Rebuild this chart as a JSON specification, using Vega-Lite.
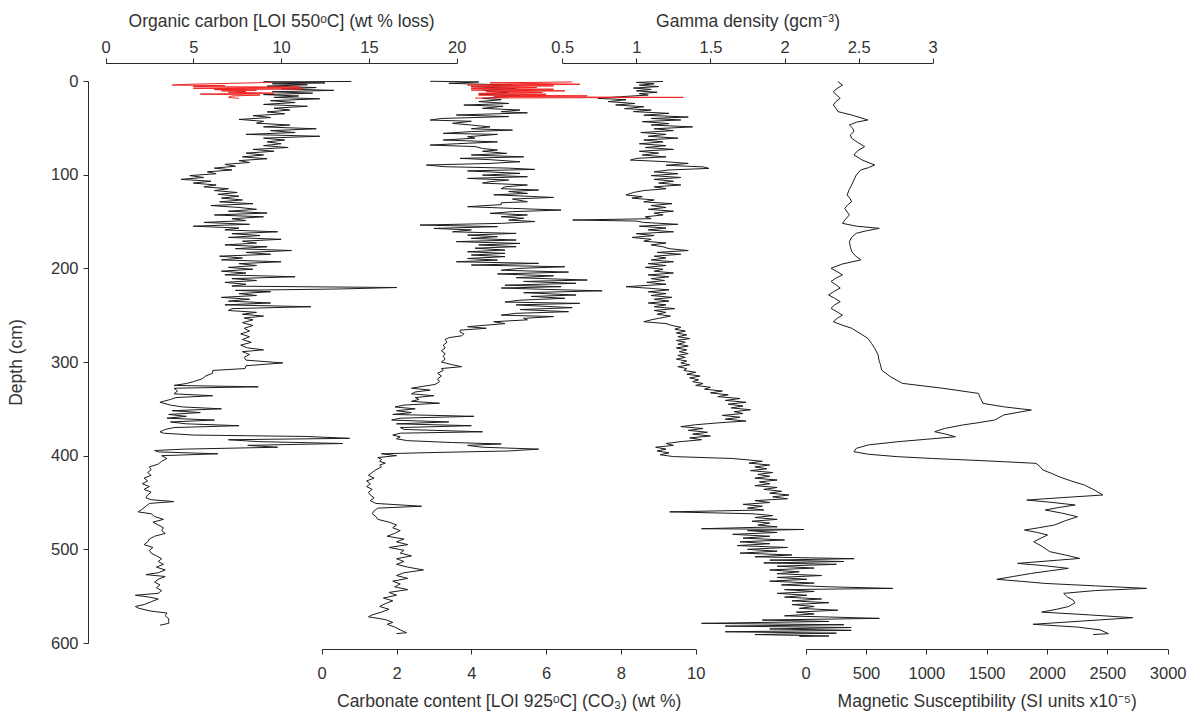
{
"$schema": "https://vega.github.io/schema/vega-lite/v6.json",
"width": 1107, "height": 562,
"autosize": {"type": "none"},
"padding": {"left": 88, "top": 81, "right": 0, "bottom": 70},
"background": "white",
"config": {
 "view": {"stroke": null},
 "axis": {"grid": false, "domainColor": "#2b2b2b", "tickColor": "#2b2b2b", "labelColor": "#333333", "titleColor": "#333333",
  "labelFont": "Liberation Sans", "titleFont": "Liberation Sans", "labelFontSize": 16.5, "titleFontSize": 17.5, "titleFontWeight": "normal",
  "tickSize": 5, "domainWidth": 1, "tickWidth": 1, "labelFlush": false, "labelOverlap": false}
},
"datasets": {
"oc": [
{"d":0.5,"v":14.0},{"d":1,"v":9.0},{"d":2,"v":12.5},{"d":3,"v":9.5},{"d":4,"v":11.5},{"d":5.5,"v":9.2},{"d":7,"v":12.0},{"d":8.5,"v":10.0},{"d":10,"v":13.0},{"d":11.5,"v":9.5},{"d":13,"v":11.8},{"d":14.5,"v":9.0},{"d":16,"v":11.0},{"d":17.5,"v":9.6},{"d":19,"v":12.2},{"d":21,"v":9.4},{"d":23,"v":10.8},{"d":25,"v":9.0},{"d":27,"v":11.5},{"d":29,"v":9.6},{"d":31,"v":10.5},{"d":33,"v":9.2},{"d":35,"v":10.2},{"d":37,"v":8.4},{"d":39,"v":9.4},{"d":41,"v":7.6},{"d":43,"v":9.0},{"d":45,"v":8.6},{"d":47,"v":10.5},{"d":49,"v":9.0},{"d":51,"v":12.0},{"d":53,"v":9.4},{"d":55,"v":10.8},{"d":57,"v":8.0},{"d":59,"v":12.2},{"d":61,"v":9.0},{"d":63,"v":10.2},{"d":65,"v":9.2},{"d":67,"v":10.0},{"d":69,"v":9.0},{"d":71,"v":10.4},{"d":73,"v":8.4},{"d":75,"v":9.6},{"d":77,"v":8.0},{"d":79,"v":9.0},{"d":81,"v":7.8},{"d":83,"v":9.2},{"d":85,"v":7.6},{"d":87,"v":8.2},{"d":89,"v":6.8},{"d":91,"v":7.4},{"d":93,"v":6.2},{"d":95,"v":7.2},{"d":97,"v":5.8},{"d":99,"v":6.3},{"d":101,"v":4.8},{"d":103,"v":5.6},{"d":105,"v":4.3},{"d":107,"v":6.0},{"d":109,"v":5.0},{"d":111,"v":6.3},{"d":113,"v":5.6},{"d":115,"v":7.0},{"d":117,"v":6.2},{"d":119,"v":7.5},{"d":121,"v":6.4},{"d":123,"v":7.6},{"d":125,"v":6.6},{"d":127,"v":7.8},{"d":129,"v":6.5},{"d":131,"v":8.4},{"d":133,"v":6.0},{"d":135,"v":7.6},{"d":137,"v":8.6},{"d":139,"v":7.0},{"d":141,"v":9.2},{"d":143,"v":6.2},{"d":145,"v":9.0},{"d":147,"v":7.2},{"d":149,"v":8.0},{"d":151,"v":5.6},{"d":153,"v":8.2},{"d":155,"v":5.0},{"d":157,"v":7.6},{"d":159,"v":6.8},{"d":161,"v":9.8},{"d":163,"v":7.2},{"d":165,"v":8.8},{"d":167,"v":7.0},{"d":169,"v":10.0},{"d":171,"v":7.8},{"d":173,"v":8.6},{"d":175,"v":6.8},{"d":177,"v":9.2},{"d":179,"v":7.4},{"d":181,"v":10.6},{"d":183,"v":8.0},{"d":185,"v":9.4},{"d":187,"v":6.5},{"d":189,"v":7.8},{"d":191,"v":6.6},{"d":193,"v":10.0},{"d":195,"v":7.6},{"d":197,"v":8.6},{"d":199,"v":7.0},{"d":201,"v":8.4},{"d":203,"v":6.6},{"d":205,"v":8.0},{"d":207,"v":6.8},{"d":209,"v":10.8},{"d":211,"v":7.2},{"d":213,"v":8.6},{"d":215,"v":6.8},{"d":217,"v":8.0},{"d":219,"v":7.2},{"d":220.5,"v":16.6},{"d":222,"v":13.4},{"d":223.5,"v":7.4},{"d":225,"v":9.4},{"d":227,"v":7.6},{"d":229,"v":8.6},{"d":231,"v":6.6},{"d":233,"v":8.2},{"d":235,"v":7.0},{"d":237,"v":9.4},{"d":239,"v":6.8},{"d":241,"v":11.7},{"d":243,"v":7.2},{"d":245,"v":7.0},{"d":247,"v":8.6},{"d":249,"v":7.8},{"d":251,"v":9.0},{"d":253,"v":7.9},{"d":255,"v":8.4},{"d":258,"v":7.8},{"d":261,"v":8.4},{"d":264,"v":7.9},{"d":267,"v":8.2},{"d":270,"v":7.7},{"d":273,"v":8.2},{"d":276,"v":7.8},{"d":279,"v":8.3},{"d":282,"v":7.7},{"d":285,"v":8.1},{"d":287,"v":9.0},{"d":289,"v":7.8},{"d":292,"v":8.2},{"d":295,"v":7.9},{"d":298,"v":8.0},{"d":301,"v":10.1},{"d":304,"v":8.0},{"d":307,"v":7.95},{"d":309,"v":6.1},{"d":312,"v":6.1},{"d":315,"v":5.7},{"d":318,"v":5.5},{"d":321,"v":5.0},{"d":323,"v":4.6},{"d":325,"v":3.9},{"d":326.5,"v":8.7},{"d":328,"v":3.9},{"d":331,"v":4.1},{"d":334,"v":3.9},{"d":336,"v":6.1},{"d":338,"v":4.0},{"d":340,"v":3.7},{"d":343,"v":3.1},{"d":346,"v":3.7},{"d":348,"v":4.4},{"d":350,"v":6.6},{"d":352,"v":3.8},{"d":354,"v":5.4},{"d":356,"v":3.6},{"d":358,"v":4.6},{"d":360,"v":3.5},{"d":362,"v":6.2},{"d":364,"v":3.7},{"d":366,"v":4.6},{"d":368,"v":7.6},{"d":370,"v":3.9},{"d":372,"v":3.4},{"d":374.5,"v":3.1},{"d":376,"v":3.3},{"d":378,"v":5.0},{"d":379.5,"v":11.4},{"d":381.5,"v":13.9},{"d":383,"v":7.0},{"d":385,"v":8.7},{"d":387,"v":13.5},{"d":389,"v":8.1},{"d":391,"v":9.8},{"d":393,"v":4.5},{"d":394.5,"v":2.8},{"d":396,"v":3.0},{"d":398,"v":6.4},{"d":400,"v":3.2},{"d":403,"v":3.5},{"d":406,"v":3.2},{"d":409,"v":3.0},{"d":412,"v":2.5},{"d":415,"v":2.6},{"d":418,"v":2.4},{"d":421,"v":2.6},{"d":424,"v":2.2},{"d":427,"v":2.4},{"d":430,"v":2.1},{"d":433,"v":2.5},{"d":436,"v":2.2},{"d":439,"v":2.6},{"d":442,"v":2.4},{"d":445,"v":2.3},{"d":447,"v":2.6},{"d":449,"v":3.9},{"d":451,"v":2.5},{"d":454,"v":2.3},{"d":457,"v":2.1},{"d":460,"v":1.85},{"d":462,"v":2.6},{"d":465,"v":2.8},{"d":468,"v":3.3},{"d":471,"v":2.7},{"d":474,"v":3.0},{"d":477,"v":3.3},{"d":480,"v":3.2},{"d":483,"v":3.4},{"d":486,"v":2.8},{"d":489,"v":2.5},{"d":492,"v":2.4},{"d":495,"v":2.2},{"d":498,"v":2.7},{"d":501,"v":2.5},{"d":504,"v":2.6},{"d":507,"v":2.9},{"d":510,"v":3.2},{"d":513,"v":3.0},{"d":516,"v":3.3},{"d":519,"v":2.9},{"d":522,"v":3.4},{"d":525,"v":3.0},{"d":527,"v":2.3},{"d":529,"v":3.4},{"d":532,"v":3.0},{"d":535,"v":2.8},{"d":538,"v":3.1},{"d":541,"v":2.9},{"d":544,"v":3.2},{"d":547,"v":3.0},{"d":549,"v":1.7},{"d":551,"v":2.5},{"d":553,"v":3.0},{"d":556,"v":2.6},{"d":559,"v":2.2},{"d":561,"v":1.7},{"d":563,"v":1.9},{"d":566,"v":2.6},{"d":568,"v":3.5},{"d":571,"v":3.4},{"d":574,"v":3.6},{"d":577,"v":3.6},{"d":579,"v":3.6},{"d":581,"v":3.1}
],
"ocr": [
{"d":1.5,"v":9.4},{"d":2.5,"v":7.1},{"d":3.5,"v":4.8},{"d":4.3,"v":3.8},{"d":5,"v":6.8},{"d":6,"v":5.0},{"d":6.5,"v":11.1},{"d":7.2,"v":7.4},{"d":7.8,"v":5.0},{"d":8.5,"v":11.2},{"d":9.2,"v":6.2},{"d":9.8,"v":8.6},{"d":10.5,"v":6.6},{"d":11.2,"v":8.0},{"d":12,"v":7.0},{"d":13,"v":9.6},{"d":14,"v":5.4},{"d":15,"v":8.8},{"d":16,"v":7.2},{"d":17.5,"v":7.0},{"d":18.5,"v":7.6}
],
"carb": [
{"d":0.3,"v":2.9},{"d":1,"v":4.2},{"d":2.5,"v":3.4},{"d":4.3,"v":5.1},{"d":6,"v":4.0},{"d":8,"v":5.2},{"d":10,"v":4.3},{"d":12,"v":5.0},{"d":14,"v":4.2},{"d":16,"v":5.3},{"d":18.5,"v":4.3},{"d":20,"v":4.8},{"d":22,"v":4.2},{"d":24,"v":5.0},{"d":25.7,"v":3.8},{"d":27,"v":4.85},{"d":29.2,"v":4.3},{"d":31,"v":5.3},{"d":32.8,"v":4.8},{"d":34,"v":5.5},{"d":36.3,"v":3.6},{"d":38,"v":5.0},{"d":40,"v":3.2},{"d":41.7,"v":2.9},{"d":43,"v":4.0},{"d":45.2,"v":3.5},{"d":47,"v":4.0},{"d":49,"v":4.5},{"d":51,"v":4.0},{"d":52.4,"v":5.1},{"d":54,"v":4.0},{"d":55.9,"v":3.25},{"d":57,"v":4.7},{"d":59.5,"v":3.9},{"d":61,"v":4.1},{"d":63,"v":3.25},{"d":65,"v":4.7},{"d":67,"v":3.6},{"d":68.4,"v":2.9},{"d":70,"v":4.1},{"d":72,"v":4.3},{"d":73.7,"v":4.7},{"d":75,"v":4.3},{"d":77.3,"v":4.95},{"d":79,"v":4.0},{"d":81,"v":5.4},{"d":82.6,"v":3.7},{"d":84,"v":4.5},{"d":86.2,"v":5.3},{"d":88,"v":4.5},{"d":89.7,"v":2.8},{"d":91.5,"v":3.3},{"d":93,"v":5.0},{"d":94.4,"v":5.7},{"d":96,"v":3.9},{"d":98.6,"v":5.3},{"d":100.5,"v":4.3},{"d":102.2,"v":5.5},{"d":104,"v":3.9},{"d":105.7,"v":5.0},{"d":107.5,"v":4.5},{"d":109,"v":4.3},{"d":111,"v":5.5},{"d":113,"v":4.9},{"d":115,"v":4.8},{"d":116.4,"v":5.8},{"d":118,"v":5.0},{"d":120,"v":5.5},{"d":121.5,"v":4.6},{"d":124.3,"v":6.2},{"d":126,"v":5.1},{"d":128.9,"v":5.5},{"d":130,"v":4.8},{"d":132,"v":4.8},{"d":134.2,"v":3.9},{"d":136,"v":5.1},{"d":137.8,"v":6.4},{"d":139.5,"v":5.1},{"d":141.3,"v":4.5},{"d":143,"v":5.5},{"d":144.9,"v":4.8},{"d":146.5,"v":5.4},{"d":148.5,"v":5.0},{"d":150,"v":5.7},{"d":152,"v":4.8},{"d":153.8,"v":2.63},{"d":155.5,"v":4.7},{"d":157.4,"v":3.0},{"d":159,"v":4.0},{"d":161,"v":3.5},{"d":162.7,"v":5.2},{"d":164.5,"v":3.9},{"d":166.2,"v":4.7},{"d":168,"v":4.0},{"d":169.8,"v":5.2},{"d":171.5,"v":3.6},{"d":173.4,"v":5.3},{"d":175,"v":4.2},{"d":176.9,"v":5.2},{"d":178.5,"v":4.1},{"d":180.5,"v":4.9},{"d":182.3,"v":3.9},{"d":184,"v":4.9},{"d":185.8,"v":4.0},{"d":187.5,"v":4.9},{"d":189.5,"v":3.9},{"d":191.2,"v":4.7},{"d":193,"v":3.6},{"d":194.7,"v":5.8},{"d":196.5,"v":4.0},{"d":198.3,"v":6.5},{"d":200,"v":5.3},{"d":202,"v":4.8},{"d":204,"v":6.6},{"d":206,"v":4.7},{"d":208,"v":6.2},{"d":210,"v":5.2},{"d":212.5,"v":7.1},{"d":214,"v":5.4},{"d":216,"v":6.8},{"d":218,"v":4.9},{"d":219.6,"v":6.4},{"d":221,"v":4.8},{"d":222.5,"v":6.0},{"d":224,"v":7.5},{"d":226,"v":5.4},{"d":228.5,"v":6.8},{"d":230,"v":5.6},{"d":232,"v":6.5},{"d":234,"v":5.3},{"d":236,"v":4.9},{"d":237.4,"v":6.9},{"d":239,"v":5.2},{"d":242,"v":6.7},{"d":244,"v":5.3},{"d":246.3,"v":6.6},{"d":248,"v":5.2},{"d":250,"v":4.8},{"d":251.5,"v":6.2},{"d":253.4,"v":5.4},{"d":255,"v":5.5},{"d":257,"v":4.6},{"d":259,"v":4.9},{"d":262.3,"v":3.9},{"d":264,"v":4.4},{"d":266,"v":3.7},{"d":268,"v":3.7},{"d":270,"v":3.8},{"d":272,"v":3.75},{"d":274,"v":3.4},{"d":276,"v":3.3},{"d":279,"v":3.35},{"d":282,"v":3.25},{"d":285,"v":3.3},{"d":288,"v":3.2},{"d":291,"v":3.3},{"d":294,"v":3.25},{"d":297,"v":3.3},{"d":300,"v":3.2},{"d":303,"v":3.5},{"d":305,"v":3.74},{"d":307,"v":3.2},{"d":309,"v":3.25},{"d":312,"v":3.1},{"d":315,"v":3.2},{"d":318,"v":3.1},{"d":321,"v":3.15},{"d":324,"v":3.03},{"d":326,"v":2.7},{"d":328,"v":2.4},{"d":330,"v":2.9},{"d":332,"v":2.5},{"d":334,"v":2.4},{"d":336,"v":3.0},{"d":338,"v":2.5},{"d":340,"v":2.6},{"d":342,"v":2.4},{"d":344,"v":3.15},{"d":346,"v":2.2},{"d":348,"v":1.96},{"d":350,"v":2.5},{"d":352,"v":2.0},{"d":354,"v":2.4},{"d":356,"v":1.9},{"d":358,"v":4.07},{"d":360,"v":2.1},{"d":362,"v":1.87},{"d":364,"v":3.4},{"d":366,"v":2.0},{"d":368,"v":4.0},{"d":370,"v":2.1},{"d":372,"v":2.2},{"d":374.5,"v":4.3},{"d":376,"v":2.1},{"d":378,"v":1.9},{"d":380,"v":2.1},{"d":382,"v":2.0},{"d":384,"v":2.3},{"d":386,"v":3.5},{"d":387.5,"v":4.8},{"d":389,"v":3.9},{"d":391,"v":4.3},{"d":393,"v":5.8},{"d":395,"v":5.0},{"d":396.5,"v":3.16},{"d":398,"v":1.6},{"d":400,"v":2.0},{"d":402,"v":1.5},{"d":404,"v":1.6},{"d":406,"v":1.55},{"d":408,"v":1.7},{"d":410,"v":1.55},{"d":412,"v":1.6},{"d":415,"v":1.45},{"d":418,"v":1.35},{"d":421,"v":1.25},{"d":424,"v":1.4},{"d":427,"v":1.2},{"d":430,"v":1.3},{"d":433,"v":1.2},{"d":436,"v":1.35},{"d":439,"v":1.25},{"d":442,"v":1.3},{"d":445,"v":1.4},{"d":448,"v":1.3},{"d":451,"v":1.45},{"d":454,"v":2.67},{"d":456,"v":1.5},{"d":459,"v":1.4},{"d":462,"v":1.35},{"d":465,"v":1.45},{"d":468,"v":1.5},{"d":471,"v":1.8},{"d":474,"v":2.0},{"d":477,"v":1.9},{"d":480,"v":2.1},{"d":483,"v":1.95},{"d":486,"v":1.75},{"d":489,"v":2.2},{"d":492,"v":2.0},{"d":495,"v":2.3},{"d":498,"v":1.8},{"d":501,"v":2.2},{"d":504,"v":2.1},{"d":507,"v":2.4},{"d":510,"v":2.0},{"d":513,"v":2.2},{"d":516,"v":2.0},{"d":519,"v":2.3},{"d":522,"v":2.72},{"d":525,"v":2.2},{"d":528,"v":2.0},{"d":531,"v":2.3},{"d":534,"v":1.9},{"d":537,"v":2.1},{"d":540,"v":1.95},{"d":543,"v":2.3},{"d":546,"v":1.8},{"d":549,"v":2.0},{"d":552,"v":1.65},{"d":555,"v":1.9},{"d":558,"v":1.7},{"d":561,"v":1.55},{"d":564,"v":1.8},{"d":567,"v":1.6},{"d":570,"v":1.35},{"d":572,"v":1.25},{"d":575,"v":1.7},{"d":578,"v":1.9},{"d":580,"v":1.75},{"d":583,"v":1.95},{"d":586,"v":2.1},{"d":589,"v":2.27},{"d":590,"v":2.0}
],
"carbr": [
{"d":1,"v":6.7},{"d":2,"v":4.5},{"d":3.5,"v":6.9},{"d":4.3,"v":3.9},{"d":5.2,"v":6.2},{"d":6.1,"v":4.0},{"d":7,"v":5.75},{"d":7.9,"v":4.0},{"d":8.8,"v":6.2},{"d":9.7,"v":4.0},{"d":10.5,"v":6.5},{"d":11.4,"v":4.4},{"d":12.3,"v":5.9},{"d":13.2,"v":4.2},{"d":14.1,"v":6.0},{"d":15,"v":4.2},{"d":15.9,"v":7.1},{"d":16.8,"v":4.6},{"d":17.5,"v":9.67},{"d":18.2,"v":4.1}
],
"gam": [
{"d":0.5,"v":1.18},{"d":1.5,"v":1.0},{"d":3,"v":1.12},{"d":4.5,"v":1.02},{"d":6,"v":1.15},{"d":7.5,"v":0.98},{"d":9,"v":1.1},{"d":10.5,"v":1.0},{"d":12,"v":1.14},{"d":13.5,"v":1.02},{"d":15,"v":1.08},{"d":16.7,"v":0.9},{"d":18.5,"v":0.74},{"d":20,"v":0.93},{"d":22,"v":0.81},{"d":24,"v":0.99},{"d":25.6,"v":0.86},{"d":27.5,"v":1.05},{"d":29.5,"v":0.92},{"d":31,"v":1.1},{"d":32.7,"v":0.98},{"d":34.5,"v":1.22},{"d":36.5,"v":1.05},{"d":38.5,"v":1.35},{"d":40,"v":1.1},{"d":41.6,"v":1.3},{"d":43.4,"v":1.04},{"d":45.5,"v":1.22},{"d":47,"v":1.1},{"d":49,"v":1.38},{"d":51,"v":1.12},{"d":53,"v":1.25},{"d":55,"v":1.03},{"d":57,"v":1.2},{"d":59,"v":1.08},{"d":61,"v":1.28},{"d":63,"v":1.05},{"d":65,"v":1.18},{"d":67,"v":1.02},{"d":69,"v":1.2},{"d":71,"v":1.06},{"d":73,"v":1.25},{"d":75,"v":1.02},{"d":77,"v":1.15},{"d":79,"v":1.04},{"d":81,"v":1.2},{"d":82.6,"v":1.0},{"d":84.4,"v":0.96},{"d":86,"v":1.18},{"d":88,"v":1.35},{"d":90,"v":1.2},{"d":91.7,"v":1.45},{"d":93.3,"v":1.49},{"d":95,"v":1.22},{"d":97,"v":1.12},{"d":99,"v":1.28},{"d":101,"v":1.1},{"d":103,"v":1.3},{"d":105,"v":1.12},{"d":107,"v":1.25},{"d":109,"v":1.15},{"d":111,"v":1.3},{"d":113,"v":1.12},{"d":115,"v":1.2},{"d":117,"v":1.05},{"d":119,"v":0.98},{"d":121.7,"v":0.93},{"d":123.5,"v":1.04},{"d":125,"v":0.97},{"d":127,"v":1.12},{"d":129,"v":1.05},{"d":131,"v":1.24},{"d":133,"v":1.1},{"d":135,"v":1.2},{"d":137,"v":1.08},{"d":139,"v":1.25},{"d":141,"v":1.12},{"d":143,"v":1.18},{"d":145,"v":1.06},{"d":147,"v":1.1},{"d":148.4,"v":0.57},{"d":149.5,"v":1.0},{"d":151,"v":1.05},{"d":153,"v":1.28},{"d":155,"v":1.02},{"d":157,"v":1.2},{"d":159,"v":1.08},{"d":161,"v":1.25},{"d":163,"v":1.0},{"d":165,"v":1.12},{"d":167,"v":0.97},{"d":169,"v":1.1},{"d":171,"v":1.05},{"d":173,"v":1.2},{"d":175,"v":1.1},{"d":177,"v":1.18},{"d":179,"v":1.22},{"d":181,"v":1.35},{"d":183,"v":1.14},{"d":185,"v":1.3},{"d":187,"v":1.12},{"d":189,"v":1.2},{"d":191,"v":1.1},{"d":193,"v":1.25},{"d":195,"v":1.08},{"d":197,"v":1.2},{"d":199,"v":1.06},{"d":201,"v":1.18},{"d":203,"v":1.12},{"d":205,"v":1.25},{"d":207,"v":1.08},{"d":209,"v":1.22},{"d":211,"v":1.1},{"d":213,"v":1.19},{"d":215,"v":1.07},{"d":217,"v":1.2},{"d":219.6,"v":0.93},{"d":221.4,"v":1.1},{"d":223,"v":1.22},{"d":225,"v":1.08},{"d":227,"v":1.2},{"d":229,"v":1.1},{"d":231,"v":1.24},{"d":233,"v":1.12},{"d":235,"v":1.22},{"d":237,"v":1.08},{"d":239,"v":1.2},{"d":241,"v":1.12},{"d":243,"v":1.26},{"d":245,"v":1.12},{"d":247,"v":1.2},{"d":249,"v":1.14},{"d":251,"v":1.23},{"d":253.4,"v":1.15},{"d":255,"v":1.1},{"d":257,"v":1.05},{"d":259,"v":1.2},{"d":261,"v":1.24},{"d":263,"v":1.3},{"d":265,"v":1.26},{"d":267,"v":1.33},{"d":269,"v":1.27},{"d":271,"v":1.34},{"d":273,"v":1.28},{"d":275,"v":1.36},{"d":277,"v":1.27},{"d":279,"v":1.33},{"d":281,"v":1.28},{"d":283,"v":1.35},{"d":285,"v":1.27},{"d":287,"v":1.34},{"d":289,"v":1.29},{"d":291,"v":1.35},{"d":293,"v":1.28},{"d":295,"v":1.33},{"d":297,"v":1.27},{"d":299,"v":1.34},{"d":301,"v":1.3},{"d":303,"v":1.36},{"d":305,"v":1.28},{"d":307,"v":1.34},{"d":309,"v":1.32},{"d":311,"v":1.4},{"d":313,"v":1.34},{"d":315,"v":1.43},{"d":317,"v":1.36},{"d":319,"v":1.42},{"d":321,"v":1.38},{"d":323,"v":1.45},{"d":325,"v":1.4},{"d":327,"v":1.5},{"d":329,"v":1.46},{"d":331,"v":1.58},{"d":333,"v":1.5},{"d":335,"v":1.62},{"d":337,"v":1.55},{"d":339,"v":1.7},{"d":341,"v":1.6},{"d":343,"v":1.74},{"d":345,"v":1.62},{"d":347,"v":1.72},{"d":349,"v":1.64},{"d":351,"v":1.77},{"d":353,"v":1.66},{"d":355,"v":1.72},{"d":357,"v":1.58},{"d":359,"v":1.7},{"d":361,"v":1.6},{"d":363,"v":1.74},{"d":365,"v":1.55},{"d":367,"v":1.4},{"d":369,"v":1.3},{"d":371,"v":1.45},{"d":373,"v":1.35},{"d":375,"v":1.48},{"d":377,"v":1.38},{"d":379,"v":1.5},{"d":381,"v":1.36},{"d":383,"v":1.44},{"d":385,"v":1.3},{"d":387,"v":1.2},{"d":389,"v":1.25},{"d":391,"v":1.13},{"d":393,"v":1.2},{"d":395,"v":1.14},{"d":397,"v":1.22},{"d":399,"v":1.16},{"d":401,"v":1.25},{"d":403,"v":1.645},{"d":404.6,"v":1.76},{"d":406,"v":1.85},{"d":408,"v":1.76},{"d":410,"v":1.9},{"d":412,"v":1.8},{"d":414,"v":1.88},{"d":416,"v":1.77},{"d":418,"v":1.92},{"d":420,"v":1.82},{"d":422,"v":1.9},{"d":424,"v":1.8},{"d":426,"v":1.95},{"d":428,"v":1.83},{"d":430,"v":1.9},{"d":432,"v":1.8},{"d":434,"v":1.95},{"d":436,"v":1.86},{"d":438,"v":1.98},{"d":440,"v":1.9},{"d":442,"v":2.03},{"d":444,"v":1.92},{"d":446,"v":2.02},{"d":448,"v":1.8},{"d":450,"v":1.9},{"d":452,"v":1.72},{"d":454,"v":1.85},{"d":456,"v":1.75},{"d":458,"v":1.86},{"d":460,"v":1.225},{"d":462,"v":1.78},{"d":464,"v":1.92},{"d":466,"v":1.8},{"d":468,"v":1.95},{"d":470,"v":1.78},{"d":472,"v":1.9},{"d":474,"v":1.82},{"d":476,"v":1.95},{"d":478,"v":1.44},{"d":478.8,"v":2.13},{"d":480,"v":1.75},{"d":482,"v":1.95},{"d":484,"v":1.65},{"d":486,"v":1.9},{"d":488,"v":1.72},{"d":490,"v":2.0},{"d":492,"v":1.7},{"d":494,"v":1.9},{"d":496,"v":1.68},{"d":498,"v":2.02},{"d":500,"v":1.75},{"d":502,"v":1.95},{"d":504,"v":1.7},{"d":506,"v":2.05},{"d":508,"v":1.8},{"d":510,"v":2.47},{"d":511.5,"v":1.9},{"d":513,"v":2.4},{"d":514.5,"v":1.86},{"d":516,"v":2.35},{"d":518,"v":1.95},{"d":520,"v":2.2},{"d":522,"v":1.9},{"d":524,"v":2.1},{"d":526,"v":1.95},{"d":528,"v":2.25},{"d":530,"v":1.95},{"d":532,"v":2.15},{"d":534,"v":1.9},{"d":536,"v":2.2},{"d":538,"v":1.98},{"d":540,"v":2.3},{"d":541.7,"v":2.73},{"d":543,"v":2.0},{"d":545,"v":2.2},{"d":547,"v":1.95},{"d":549,"v":2.15},{"d":551,"v":2.0},{"d":553,"v":2.25},{"d":555,"v":2.05},{"d":557,"v":2.3},{"d":559,"v":2.05},{"d":561,"v":2.2},{"d":563,"v":2.1},{"d":565,"v":2.36},{"d":567,"v":2.08},{"d":569,"v":2.2},{"d":571,"v":2.0},{"d":573.7,"v":2.64},{"d":575.5,"v":1.85},{"d":577,"v":2.3},{"d":579,"v":1.44},{"d":580.5,"v":2.4},{"d":582,"v":1.6},{"d":583.5,"v":2.45},{"d":585,"v":1.9},{"d":586.5,"v":2.45},{"d":588,"v":1.6},{"d":589.5,"v":2.35},{"d":591,"v":1.8},{"d":592.5,"v":2.3},{"d":593,"v":2.1}
],
"ms": [
{"d":0.7,"v":267},{"d":4.3,"v":305},{"d":8,"v":260},{"d":11.4,"v":229},{"d":15,"v":255},{"d":18.5,"v":286},{"d":22,"v":250},{"d":25.6,"v":229},{"d":29,"v":250},{"d":32.7,"v":267},{"d":36.3,"v":381},{"d":41.6,"v":515},{"d":44,"v":420},{"d":47,"v":362},{"d":50.5,"v":390},{"d":54,"v":400},{"d":57.5,"v":370},{"d":61.2,"v":381},{"d":65.5,"v":430},{"d":70.1,"v":488},{"d":74.5,"v":430},{"d":79,"v":400},{"d":84.5,"v":470},{"d":89.7,"v":572},{"d":92.5,"v":520},{"d":95,"v":457},{"d":100.4,"v":419},{"d":105.5,"v":400},{"d":111,"v":381},{"d":116,"v":360},{"d":121.7,"v":343},{"d":125,"v":365},{"d":128.8,"v":381},{"d":132,"v":350},{"d":136,"v":324},{"d":140,"v":345},{"d":143,"v":362},{"d":147.5,"v":330},{"d":152,"v":305},{"d":155,"v":420},{"d":157.3,"v":610},{"d":160,"v":500},{"d":162.6,"v":419},{"d":167,"v":380},{"d":171.6,"v":362},{"d":177,"v":370},{"d":182,"v":381},{"d":186.5,"v":410},{"d":191,"v":457},{"d":195.5,"v":300},{"d":200,"v":210},{"d":203.5,"v":260},{"d":207,"v":305},{"d":210.5,"v":250},{"d":214,"v":210},{"d":217.5,"v":250},{"d":221,"v":286},{"d":225,"v":230},{"d":228.5,"v":190},{"d":232,"v":240},{"d":235.6,"v":286},{"d":239,"v":240},{"d":242.7,"v":210},{"d":246.5,"v":260},{"d":250,"v":305},{"d":253.5,"v":260},{"d":257,"v":229},{"d":260.5,"v":300},{"d":264,"v":381},{"d":269.5,"v":450},{"d":274.8,"v":515},{"d":280,"v":545},{"d":285.4,"v":572},{"d":292.5,"v":600},{"d":298,"v":607},{"d":303,"v":620},{"d":308.6,"v":629},{"d":315.5,"v":700},{"d":322.8,"v":801},{"d":328.2,"v":1145},{"d":333.5,"v":1431},{"d":339,"v":1450},{"d":344.2,"v":1469},{"d":348,"v":1650},{"d":351.3,"v":1870},{"d":354,"v":1750},{"d":356.6,"v":1641},{"d":359.5,"v":1600},{"d":362,"v":1565},{"d":365,"v":1420},{"d":367.3,"v":1298},{"d":371,"v":1150},{"d":374.4,"v":1069},{"d":377,"v":1160},{"d":379.8,"v":1241},{"d":382.5,"v":1000},{"d":385.1,"v":763},{"d":388.5,"v":520},{"d":392.2,"v":419},{"d":395.8,"v":400},{"d":398.5,"v":520},{"d":401.1,"v":763},{"d":403,"v":1050},{"d":404.6,"v":1336},{"d":406.5,"v":1650},{"d":408.2,"v":1909},{"d":411.5,"v":1940},{"d":415.3,"v":1966},{"d":419,"v":2040},{"d":422.5,"v":2100},{"d":427,"v":2200},{"d":431.4,"v":2310},{"d":436.5,"v":2390},{"d":442,"v":2463},{"d":445,"v":2100},{"d":447.4,"v":1832},{"d":450,"v":2050},{"d":452.7,"v":2233},{"d":455.3,"v":2100},{"d":458,"v":1985},{"d":461.5,"v":2130},{"d":465.2,"v":2252},{"d":469.5,"v":2150},{"d":474,"v":2062},{"d":477,"v":1930},{"d":479.4,"v":1813},{"d":482,"v":1920},{"d":484.7,"v":2004},{"d":488,"v":1950},{"d":491.9,"v":1890},{"d":497,"v":1960},{"d":502.5,"v":2023},{"d":506,"v":2150},{"d":509.7,"v":2271},{"d":512.5,"v":2000},{"d":515,"v":1756},{"d":517.5,"v":1980},{"d":520.3,"v":2176},{"d":523,"v":2020},{"d":525.7,"v":1870},{"d":529,"v":1720},{"d":532,"v":1584},{"d":534.3,"v":1800},{"d":536.4,"v":1985},{"d":539,"v":2400},{"d":541.7,"v":2825},{"d":544,"v":2400},{"d":547,"v":2138},{"d":551,"v":2170},{"d":554,"v":2214},{"d":557,"v":2232},{"d":561,"v":2180},{"d":564,"v":2080},{"d":567,"v":1956},{"d":570,"v":2350},{"d":573,"v":2710},{"d":576.5,"v":2300},{"d":580,"v":1884},{"d":583,"v":2250},{"d":586,"v":2440},{"d":590,"v":2508},{"d":591,"v":2382}
]
},
"resolve": {"scale": {"x": "independent"}, "axis": {"x": "independent"}},
"layer": [
 {"data": {"name": "oc"}, "mark": {"type": "line", "stroke": "#1c1c1c", "strokeWidth": 1},
  "encoding": {
   "x": {"field": "v", "type": "quantitative", "scale": {"domain": [0, 20], "range": [17.5, 368.7], "nice": false, "zero": false},
    "axis": {"orient": "top", "offset": 18, "values": [0, 5, 10, 15, 20], "title": "Organic carbon [LOI 550ᵒC] (wt % loss)", "labelPadding": 3, "titleBaseline": "alphabetic", "titleY": -37}},
   "y": {"field": "d", "type": "quantitative", "scale": {"domain": [0, 600], "reverse": true, "nice": false, "zero": false},
    "axis": {"orient": "left", "values": [0, 100, 200, 300, 400, 500, 600], "title": "Depth (cm)", "labelPadding": 5, "titleX": -63, "titleY": 281}},
   "order": {"field": "d", "type": "quantitative"}}},
 {"data": {"name": "carb"}, "mark": {"type": "line", "stroke": "#1c1c1c", "strokeWidth": 1},
  "encoding": {
   "x": {"field": "v", "type": "quantitative", "scale": {"domain": [0, 10], "range": [233.7, 607.7], "nice": false, "zero": false},
    "axis": {"orient": "bottom", "offset": 6, "values": [0, 2, 4, 6, 8, 10], "title": "Carbonate content [LOI 925ᵒC] (CO₃) (wt %)", "labelPadding": 11, "titleBaseline": "alphabetic", "titleY": 57.4}},
   "y": {"field": "d", "type": "quantitative", "scale": {"domain": [0, 600], "reverse": true, "nice": false, "zero": false},
    "axis": {"orient": "left", "values": [0, 100, 200, 300, 400, 500, 600], "title": "Depth (cm)", "labelPadding": 5, "titleX": -63, "titleY": 281}},
   "order": {"field": "d", "type": "quantitative"}}},
 {"data": {"name": "gam"}, "mark": {"type": "line", "stroke": "#1c1c1c", "strokeWidth": 1},
  "encoding": {
   "x": {"field": "v", "type": "quantitative", "scale": {"domain": [0.5, 3], "range": [474.3, 844.7], "nice": false, "zero": false},
    "axis": {"orient": "top", "offset": 18, "values": [0.5, 1, 1.5, 2, 2.5, 3], "format": "~g", "title": "Gamma density (gcm⁻³)", "labelPadding": 3, "titleBaseline": "alphabetic", "titleY": -37}},
   "y": {"field": "d", "type": "quantitative", "scale": {"domain": [0, 600], "reverse": true, "nice": false, "zero": false},
    "axis": {"orient": "left", "values": [0, 100, 200, 300, 400, 500, 600], "title": "Depth (cm)", "labelPadding": 5, "titleX": -63, "titleY": 281}},
   "order": {"field": "d", "type": "quantitative"}}},
 {"data": {"name": "ms"}, "mark": {"type": "line", "stroke": "#1c1c1c", "strokeWidth": 1},
  "encoding": {
   "x": {"field": "v", "type": "quantitative", "scale": {"domain": [0, 3000], "range": [717.7, 1079.7], "nice": false, "zero": false},
    "axis": {"orient": "bottom", "offset": 6, "values": [0, 500, 1000, 1500, 2000, 2500, 3000], "format": "d", "title": "Magnetic Susceptibility (SI units x10⁻⁵)", "labelPadding": 11, "titleBaseline": "alphabetic", "titleY": 57.4}},
   "y": {"field": "d", "type": "quantitative", "scale": {"domain": [0, 600], "reverse": true, "nice": false, "zero": false},
    "axis": {"orient": "left", "values": [0, 100, 200, 300, 400, 500, 600], "title": "Depth (cm)", "labelPadding": 5, "titleX": -63, "titleY": 281}},
   "order": {"field": "d", "type": "quantitative"}}},
 {"data": {"name": "ocr"}, "mark": {"type": "line", "stroke": "#f02323", "strokeWidth": 1},
  "encoding": {
   "x": {"field": "v", "type": "quantitative", "scale": {"domain": [0, 20], "range": [17.5, 368.7], "nice": false, "zero": false}, "axis": null},
   "y": {"field": "d", "type": "quantitative", "scale": {"domain": [0, 600], "reverse": true, "nice": false, "zero": false},
    "axis": {"orient": "left", "values": [0, 100, 200, 300, 400, 500, 600], "title": "Depth (cm)", "labelPadding": 5, "titleX": -63, "titleY": 281}},
   "order": {"field": "d", "type": "quantitative"}}},
 {"data": {"name": "carbr"}, "mark": {"type": "line", "stroke": "#f02323", "strokeWidth": 1},
  "encoding": {
   "x": {"field": "v", "type": "quantitative", "scale": {"domain": [0, 10], "range": [233.7, 607.7], "nice": false, "zero": false}, "axis": null},
   "y": {"field": "d", "type": "quantitative", "scale": {"domain": [0, 600], "reverse": true, "nice": false, "zero": false},
    "axis": {"orient": "left", "values": [0, 100, 200, 300, 400, 500, 600], "title": "Depth (cm)", "labelPadding": 5, "titleX": -63, "titleY": 281}},
   "order": {"field": "d", "type": "quantitative"}}}
]
}
